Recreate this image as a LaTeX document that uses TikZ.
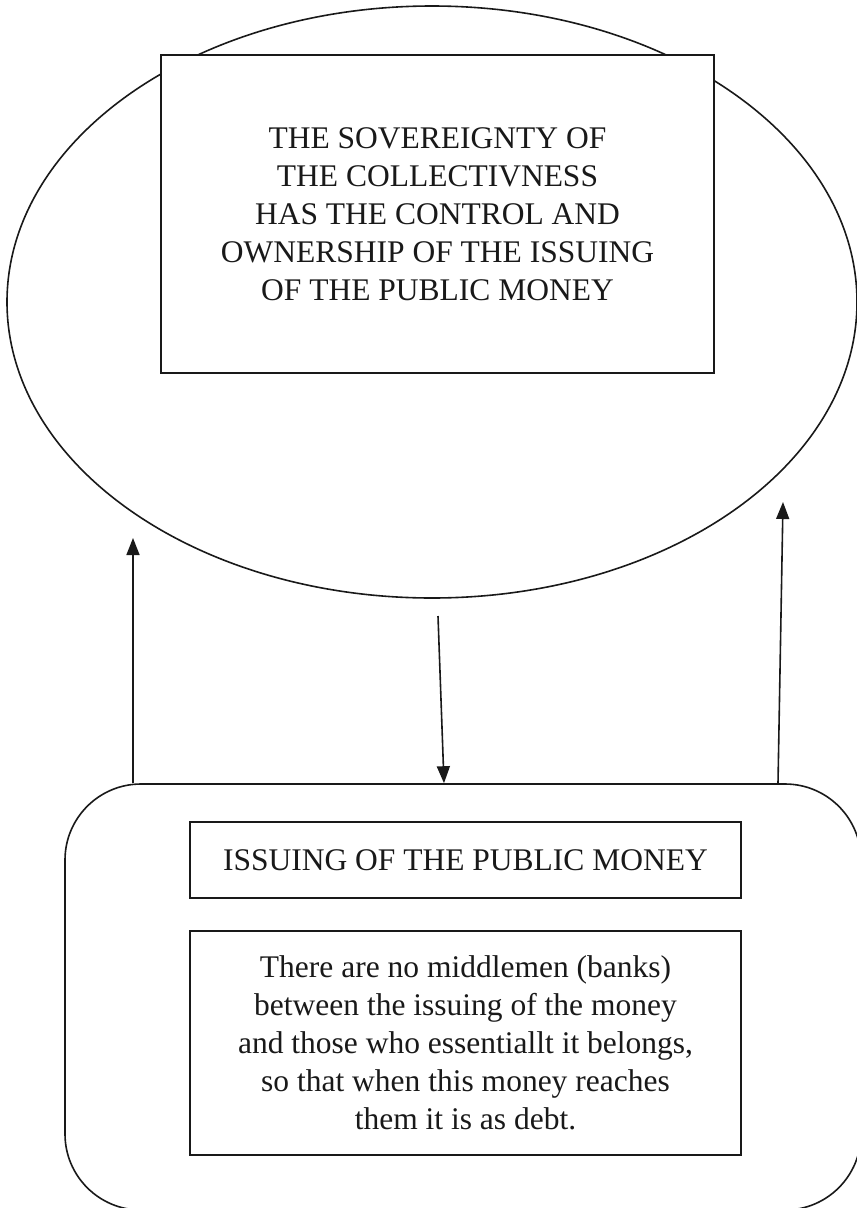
\documentclass[tikz,border=0pt]{standalone}
\usepackage{fontspec}
\setmainfont{Liberation Serif}
\usetikzlibrary{shapes.geometric,arrows.meta}
\begin{document}
\begin{tikzpicture}[x=1pt,y=-1pt,
  shp/.style={draw=black!90, line width=1.6pt, inner sep=0pt},
  txt/.style={font=\fontsize{31.5}{38}\selectfont, align=center, text=black!90},
  arr/.style={draw=black!90, line width=1.6pt, -{Triangle[length=17pt,width=13pt]}}
]
\useasboundingbox (0,0) rectangle (857,1208);
% top ellipse and its box
\node[shp, ellipse, minimum width=850, minimum height=592] (sov) at (432,302) {};
\node[shp, rectangle, fill=white, minimum width=553, minimum height=318, txt] (sovbox) at (437.5,214)
  {THE SOVEREIGNTY OF\\THE COLLECTIVNESS\\HAS THE CONTROL AND\\OWNERSHIP OF THE ISSUING\\OF THE PUBLIC MONEY};
% bottom rounded box
\node[shp, rectangle, rounded corners=76pt, minimum width=796, minimum height=426] (issue) at (463,997) {};
\node[shp, rectangle, minimum width=551, minimum height=76, txt] (issbox) at (465.5,860) {ISSUING OF THE PUBLIC MONEY};
\node[shp, rectangle, minimum width=551, minimum height=224, txt] (nomid) at (465.5,1043)
  {There are no middlemen (banks)\\between the issuing of the money\\and those who essentiallt it belongs,\\so that when this money reaches\\them it is as debt.};
% arrows
\coordinate (lt) at (133,538);
\coordinate (rt) at (783,502);
\coordinate (rb) at (778,0);
\coordinate (ms) at (438,616);
\coordinate (me) at (444,0);
\draw[arr] (issue.north -| lt) -- (lt);
\draw[arr] (issue.north -| rb) -- (rt);
\draw[arr] (ms) -- (issue.north -| me);
\end{tikzpicture}
\end{document}
